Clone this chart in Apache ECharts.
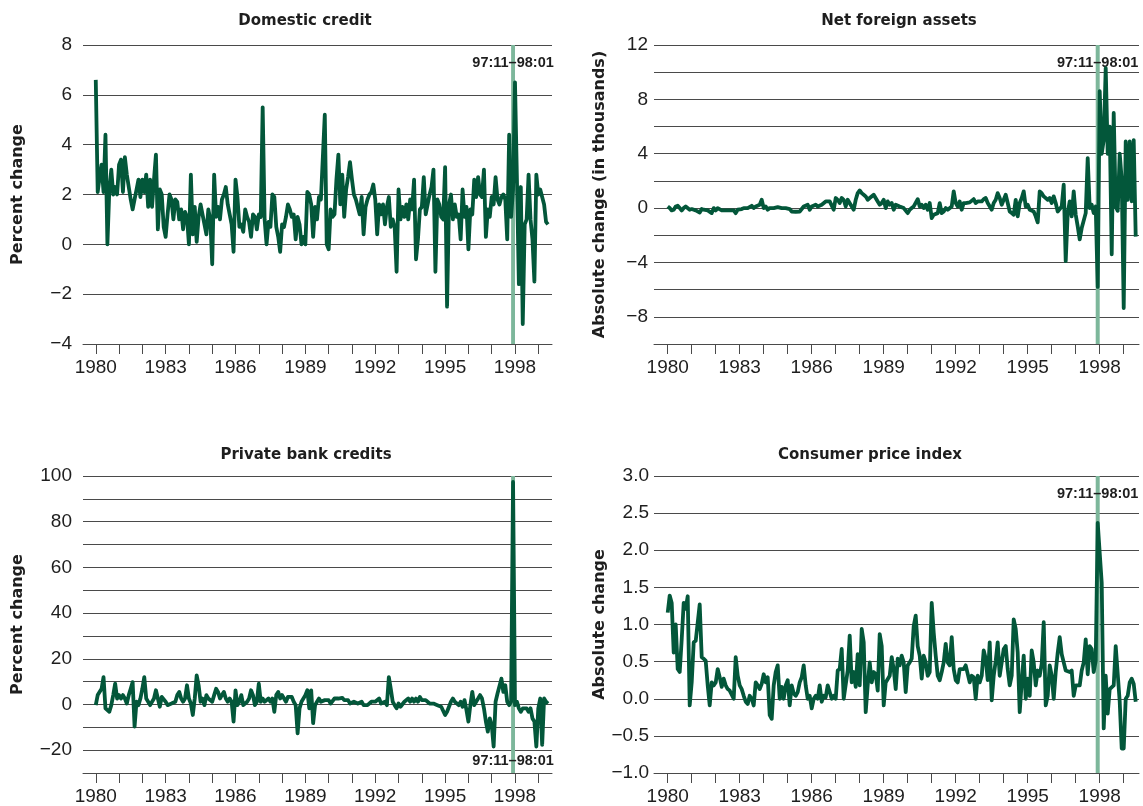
<!DOCTYPE html>
<html>
<head>
<meta charset="utf-8">
<script src="https://cdn.jsdelivr.net/npm/echarts@6/dist/echarts.min.js"></script>
<style>
html,body{margin:0;padding:0;background:#fff;}
#chart{width:1143px;height:806px;}
</style>
</head>
<body>
<div id="chart"></div>
<script>
// ---- data (monthly, starting 1980:01) ----
const startYear = 1980;
const yearTicks = [1980,1981,1982,1983,1984,1985,1986,1987,1988,1989,1990,1991,1992,1993,1994,1995,1996,1997,1998,1999];
const yearLabels = [1980,1983,1986,1989,1992,1995,1998];
const crisisLabel = '97:11\u201398:01';
const crisisFrom = 1997 + 10/12;   // 1997:11
const crisisTo = 1998 + 0/12;      // 1998:01

const panelTitles = ['Domestic credit', 'Net foreign assets', 'Private bank credits', 'Consumer price index'];
const axisNames = ['Percent change', 'Absolute change (in thousands)', 'Percent change', 'Absolute change'];

const domesticCredit = [
6.6,2.1,2.7,3.2,2.1,4.4,0.0,2.2,3.0,2.0,
2.3,2.0,3.2,3.4,2.1,3.5,2.8,2.3,1.8,1.4,
1.8,2.2,2.6,1.9,2.6,2.1,2.8,1.5,2.6,1.5,
2.6,3.6,0.6,2.2,2.0,0.7,0.3,1.2,2.0,1.8,
1.0,1.8,1.7,1.0,1.4,0.6,1.3,1.1,0.0,2.8,
0.4,1.5,0.1,1.1,1.6,1.2,0.8,0.4,1.4,1.0,
-0.8,2.8,1.1,1.5,1.0,1.8,2.0,2.3,1.6,1.2,
0.8,-0.3,2.6,1.9,0.7,0.8,0.5,1.4,1.1,0.9,
0.3,1.2,1.1,0.6,1.2,1.1,5.5,1.0,0.0,0.9,
0.7,2.0,1.9,0.7,0.3,-0.3,0.8,0.7,1.1,1.6,
1.4,1.1,1.2,0.2,1.1,0.8,0.0,0.3,0.0,2.1,
2.0,1.6,0.3,1.5,1.0,1.9,1.8,1.8,5.2,0.0,
-0.2,1.4,1.1,1.2,2.6,3.6,1.6,2.8,1.1,2.2,
2.7,3.3,2.6,2.0,1.8,1.5,1.2,1.9,0.4,1.5,
1.8,2.0,2.1,2.4,1.8,0.4,1.6,1.2,1.6,0.8,
1.5,1.9,0.7,1.0,0.7,-1.1,2.2,1.0,1.5,1.1,
1.6,1.0,1.8,1.4,2.6,-0.6,0.2,1.4,1.5,2.7,
1.2,1.6,2.0,2.3,3.0,-1.1,1.8,1.6,1.1,1.0,
3.1,-2.5,1.6,2.0,1.0,1.6,1.1,1.2,0.2,2.2,
1.1,1.5,-0.2,1.4,1.2,2.6,1.9,2.7,2.0,1.9,
3.0,0.3,1.4,1.1,1.9,1.6,2.7,1.8,1.6,1.9,
2.0,1.8,0.2,4.4,1.1,2.2,6.5,2.6,-1.6,2.3,
-3.2,0.8,1.0,2.8,1.0,0.2,-1.5,2.8,2.0,2.2,
1.9,1.6,0.9,0.8
];

const netForeignAssets = [
0.12,0.0,-0.17,-0.12,0.12,0.17,0.0,-0.17,0.0,0.12,
0.17,-0.12,-0.07,-0.12,-0.17,-0.25,-0.32,-0.07,-0.12,0.0,
-0.17,-0.12,-0.37,0.0,-0.17,0.0,-0.12,-0.17,-0.25,-0.17,
-0.07,-0.17,-0.12,-0.17,-0.37,-0.12,0.0,-0.07,0.0,0.12,
0.0,0.12,0.17,0.0,0.12,0.0,0.25,0.61,0.0,0.12,
-0.12,0.0,0.12,0.0,0.0,0.07,0.0,0.0,0.0,0.0,
-0.12,-0.07,-0.25,-0.32,-0.27,-0.32,-0.25,-0.12,0.12,0.0,
0.25,-0.12,0.12,0.0,0.25,0.12,0.25,0.25,0.37,0.49,
0.37,0.49,0.61,-0.12,0.74,0.61,0.37,0.74,0.61,0.12,
0.61,0.49,0.12,-0.12,0.61,1.1,1.3,1.1,0.98,0.86,
0.61,0.74,0.86,0.98,1.05,0.49,0.25,0.37,0.61,0.0,
0.49,0.25,0.37,-0.12,0.25,0.12,
0.12,0.25,0.0,0.12,-0.37,-0.12,0.0,0.12,0.25,0.66,
0.12,0.25,0.0,0.25,-0.12,0.37,-0.74,-0.49,-0.61,-0.37,
0.37,-0.37,-0.25,0.0,-0.12,-0.12,0.12,1.23,0.37,0.12,
0.49,-0.12,0.37,0.37,0.37,0.42,0.49,0.66,0.37,0.49,
0.61,0.49,0.66,0.74,0.37,0.25,-0.12,0.37,0.61,1.1,
0.74,0.25,0.61,0.98,0.37,-0.25,-0.37,-0.49,0.61,-0.61,
0.37,0.74,1.23,0.12,0.25,-0.12,-0.25,-0.25,-0.61,-1.05,
1.23,1.1,0.86,0.74,0.61,0.74,0.37,0.86,0.37,-0.25,
-0.37,0.12,1.72,-3.9,-0.37,0.49,-0.61,1.23,-0.49,-1.35,
-2.3,-1.47,-1.35,-0.37,3.68,0.0,0.25,-0.37,0.12,-5.8,
8.6,4.0,5.0,10.3,4.0,6.0,-3.4,7.0,0.1,-0.2,
4.0,2.1,-7.35,4.9,0.6,4.9,0.5,5.0,-2.1
];

const privateBankCredits = [
-0.3,4.1,4.1,6.9,12.0,-1.7,-2.5,-3.2,-0.3,4.1,
9.1,2.6,4.1,2.6,4.1,2.6,0.4,4.1,6.9,9.8,
-9.7,1.2,-0.3,2.6,6.9,12.0,2.6,1.2,-0.3,0.4,
2.6,6.2,2.6,-1.0,3.3,2.6,1.2,-0.3,-1.0,0.4,
1.2,1.2,4.1,5.5,2.6,1.2,2.6,8.4,2.6,0.4,
-4.6,2.6,12.7,8.4,1.2,2.6,-0.3,4.1,2.6,2.6,
1.2,4.1,6.9,5.5,2.6,4.1,5.5,2.6,1.2,2.6,
1.2,-7.5,6.2,-0.3,1.2,4.1,-0.3,-1.0,1.2,2.6,
6.2,4.1,-0.3,1.2,9.1,1.2,2.6,1.2,1.9,2.6,
1.2,2.6,-3.2,4.1,5.5,2.6,4.1,2.6,1.2,3.3,
2.6,3.3,1.2,-0.3,-12.6,-1.7,1.2,1.2,4.1,6.2,
-1.7,6.2,-8.2,-0.3,1.2,2.6,1.2,1.2,1.9,1.2,
1.9,
0.4,1.2,2.6,2.9,2.6,1.9,2.9,1.9,1.2,1.9,
0.4,1.2,1.2,1.9,0.4,1.2,1.2,-0.3,0.4,-0.3,
-1.0,1.2,0.4,1.2,1.9,2.6,0.4,1.2,1.2,-0.3,
12.0,6.9,1.2,-0.3,-1.7,0.4,-1.0,-0.3,1.2,1.9,
2.6,1.2,2.6,1.2,2.6,1.2,3.3,1.9,1.2,1.9,
1.2,0.4,-0.3,0.4,-0.3,-0.3,0.4,-1.0,-1.7,-4.6,
-3.2,-1.0,1.2,2.6,1.2,0.4,-0.3,1.2,-1.0,1.9,
-2.5,-7.5,-0.3,5.5,-0.3,1.2,2.6,4.1,2.6,-1.7,
-7.5,-11.9,-6.1,-9.0,-18.4,1.2,4.8,4.1,11.3,5.5,
8.4,1.2,-0.3,1.2,97.4,-0.3,1.2,-1.7,-3.2,-1.7,
-2.5,-1.7,-3.2,-1.7,-6.1,-7.5,-18.4,-1.7,2.6,-17.7,
2.6,1.2,0.4
];

const consumerPriceIndex = [
1.16,1.39,1.29,0.62,1.0,0.40,0.36,0.80,1.29,1.21,
1.38,-0.09,0.22,0.76,0.78,0.76,1.27,0.56,0.54,0.51,
0.18,-0.09,0.22,0.18,0.22,0.40,0.29,0.16,0.27,0.18,
0.13,0.11,0.09,0.0,0.56,0.31,0.18,0.13,0.04,-0.04,
-0.07,0.04,0.0,-0.09,0.22,0.18,0.13,0.20,0.33,0.22,
0.29,-0.22,-0.27,0.18,0.36,0.45,0.0,0.16,0.0,0.18,
0.25,-0.09,0.18,0.07,0.04,0.09,0.22,0.29,0.45,0.18,
0.0,0.04,-0.13,0.0,0.04,0.0,0.18,-0.04,0.04,0.02,
0.18,0.09,0.0,0.04,0.0,0.38,0.40,0.67,0.0,0.0,
0.38,0.85,0.22,0.36,0.16,0.60,0.18,0.94,0.76,-0.18,
0.18,0.49,0.22,0.36,0.33,0.11,0.87,0.71,-0.09,0.22,
0.22,0.31,0.56,0.40,0.13,0.54,
0.45,0.58,0.49,0.09,0.45,0.49,0.54,0.98,1.12,0.71,
0.58,0.27,0.58,0.49,0.31,0.36,1.29,0.89,0.58,0.31,
0.25,0.36,0.49,0.74,0.49,0.45,0.83,0.40,0.25,0.22,
0.40,0.42,0.40,0.45,0.45,0.22,0.31,0.29,0.0,0.31,
0.22,0.31,0.65,0.54,0.25,0.76,-0.02,0.31,0.51,0.76,
0.31,0.49,0.67,0.71,0.40,0.18,0.31,1.07,0.94,0.62,
-0.18,0.22,0.58,0.0,0.27,0.04,0.65,0.49,0.18,0.38,
0.31,0.47,1.03,-0.09,0.04,0.45,0.31,0.0,0.36,0.62,
0.83,0.60,0.49,0.38,0.40,0.36,0.38,0.04,0.18,0.16,
0.18,0.38,0.49,0.80,0.33,0.71,0.67,0.36,0.51,2.37,
1.96,1.56,-0.40,0.31,-0.20,0.13,0.13,0.18,0.71,0.71,
-0.04,-0.67,-0.67,0.0,0.04,0.22,0.27,0.20,-0.04
];

// ---- layout ----
const LINE_COLOR = '#03573a';
const BAND_COLOR = '#7db79b';
const GRID_COLOR = '#4a4a4a';
const TEXT_COLOR = '#1e1e1e';
const TICK_FONT = 'Liberation Sans';
const BOLD_FONT = 'DejaVu Sans';

const grids = [
  {left: 83, top: 45, width: 469, height: 299},
  {left: 654, top: 45, width: 485, height: 299},
  {left: 83, top: 476, width: 469, height: 299},
  {left: 654, top: 476, width: 485, height: 299}
];
const xRanges = [
  [1979.452, 1999.589],
  [1979.429, 1999.637],
  [1979.452, 1999.589],
  [1979.429, 1999.637]
];

function minus(s) { return s.replace('-', '\u2212'); }

const yConfigs = [
  {min: -4, max: 8, interval: 2, fmt: v => minus(String(v)), gap: 57, margin: 11},
  {min: -10, max: 12, interval: 2, fmt: v => (v % 4 === 0 ? minus(String(v)) : ''), gap: 46, margin: 6},
  {min: -30, max: 100, interval: 10, fmt: v => (v % 20 === 0 ? minus(String(v)) : ''), gap: 57, margin: 11},
  {min: -1, max: 3, interval: 0.5, fmt: v => minus(v.toFixed(1)), gap: 46, margin: 5}
];

const seriesValues = [domesticCredit, netForeignAssets, privateBankCredits, consumerPriceIndex];
const labelAtBottom = [false, false, true, false];

const xAxes = grids.map((g, k) => ({
  type: 'value', gridIndex: k, min: xRanges[k][0], max: xRanges[k][1],
  axisLine: {show: true, onZero: false, lineStyle: {color: GRID_COLOR, width: 1}},
  axisTick: {show: true, length: 10, customValues: yearTicks, lineStyle: {color: GRID_COLOR, width: 1}},
  axisLabel: {show: true, customValues: yearLabels, formatter: v => String(Math.round(v)),
    fontFamily: TICK_FONT, fontSize: 19, color: TEXT_COLOR, margin: 14},
  splitLine: {show: false}
}));

const yAxes = grids.map((g, k) => ({
  type: 'value', gridIndex: k, min: yConfigs[k].min, max: yConfigs[k].max, interval: yConfigs[k].interval,
  axisLine: {show: false}, axisTick: {show: false},
  splitLine: {show: true, lineStyle: {color: GRID_COLOR, width: 1}},
  axisLabel: {formatter: yConfigs[k].fmt, fontFamily: TICK_FONT, fontSize: 19, color: TEXT_COLOR, margin: yConfigs[k].margin},
  name: axisNames[k], nameLocation: 'middle', nameRotate: 90, nameGap: yConfigs[k].gap,
  nameTextStyle: {fontFamily: BOLD_FONT, fontWeight: 'bold', fontSize: 16, color: TEXT_COLOR}
}));

const series = seriesValues.map((vals, k) => ({
  type: 'line', xAxisIndex: k, yAxisIndex: k,
  data: vals.map((v, i) => [startYear + i / 12, v]),
  showSymbol: false, symbol: 'none',
  lineStyle: {color: LINE_COLOR, width: 3.8, join: 'round'},
  z: 3,
  markArea: {
    silent: true,
    itemStyle: {color: BAND_COLOR, opacity: 1},
    label: {show: true, position: labelAtBottom[k] ? 'insideBottom' : 'insideTop',
      distance: labelAtBottom[k] ? 5 : 10,
      formatter: crisisLabel, fontFamily: 'Liberation Sans', fontWeight: 'bold', fontSize: 14.5, color: TEXT_COLOR},
    data: [[{xAxis: crisisFrom}, {xAxis: crisisTo}]]
  }
}));

const titlePos = [[305, 21], [899, 21], [306, 455], [870, 455]];
const graphics = panelTitles.map((t, k) => ({
  type: 'text', x: titlePos[k][0], y: titlePos[k][1],
  style: {text: t, align: 'center', verticalAlign: 'middle',
    font: 'bold 15px "DejaVu Sans"', fill: TEXT_COLOR}
}));

const chart = echarts.init(document.getElementById('chart'), null, {renderer: 'canvas'});
chart.setOption({
  animation: false,
  backgroundColor: '#ffffff',
  grid: grids,
  xAxis: xAxes,
  yAxis: yAxes,
  series: series,
  graphic: graphics
});
</script>
</body>
</html>
